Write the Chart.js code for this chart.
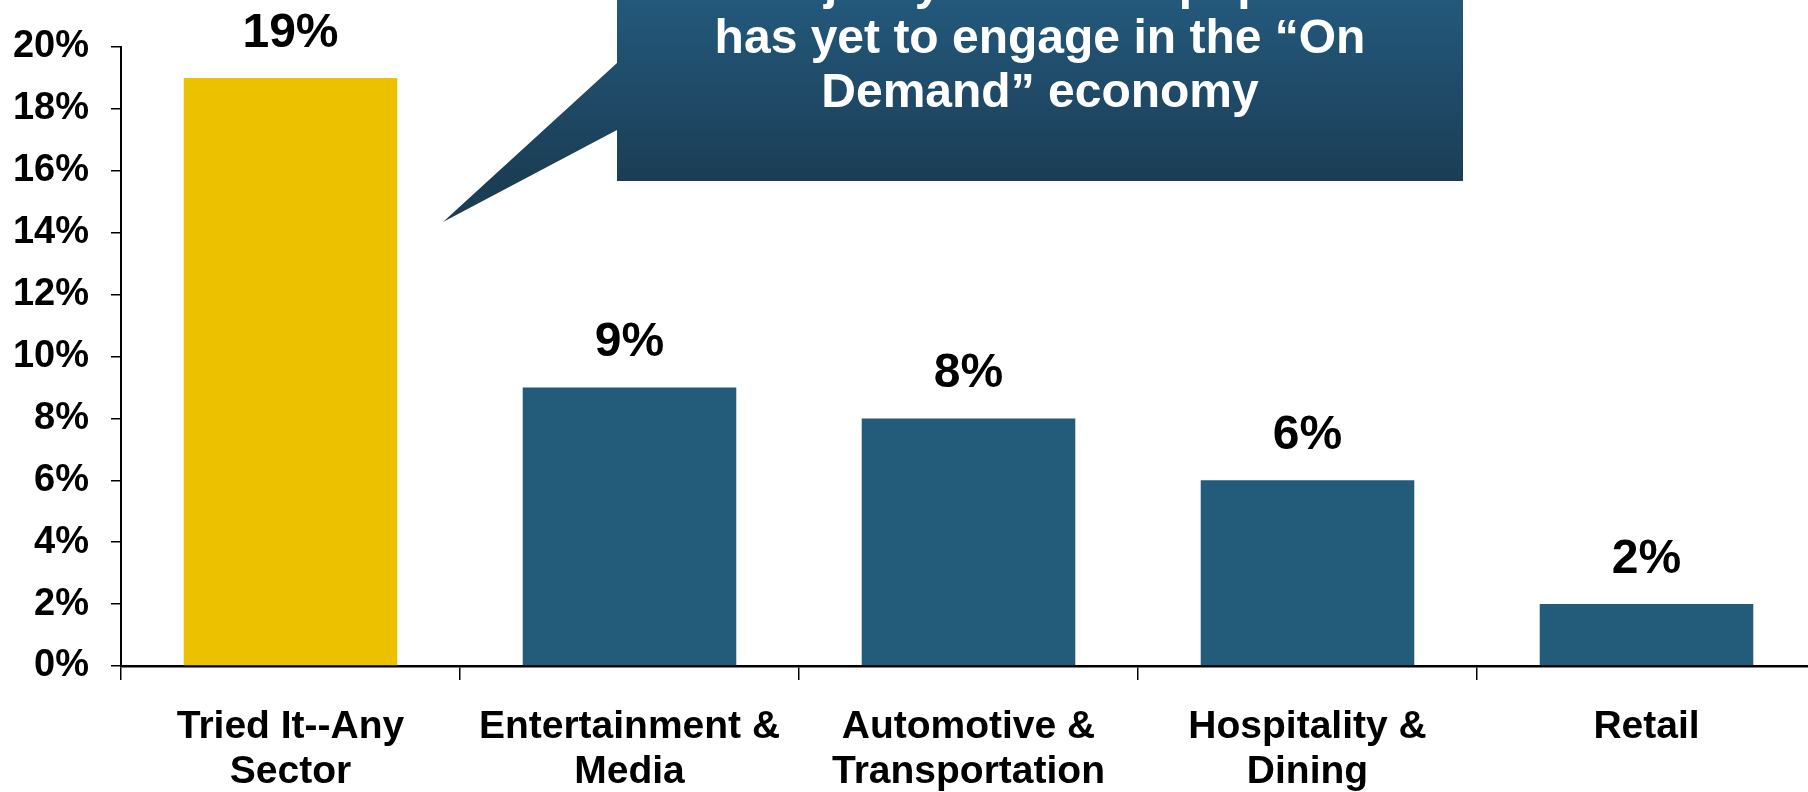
<!DOCTYPE html>
<html>
<head>
<meta charset="utf-8">
<script src="https://cdn.jsdelivr.net/npm/chart.js@4.4.0/dist/chart.umd.min.js"></script>
<style>
  html, body { margin: 0; padding: 0; background: #fff; overflow: hidden; }
  #wrap { width: 1820px; height: 792px; position: relative; }
</style>
</head>
<body>
<div id="wrap"><canvas id="chart"></canvas></div>
<script>
// data
const categories = [
    ['Tried It--Any', 'Sector'],
    ['Entertainment &', 'Media'],
    ['Automotive &', 'Transportation'],
    ['Hospitality &', 'Dining'],
    ['Retail']
];
const shares = [19, 9, 8, 6, 2];
const barColors = ['#ecc200', '#235b7a', '#235b7a', '#235b7a', '#235b7a'];
const yTicks = [0, 2, 4, 6, 8, 10, 12, 14, 16, 18, 20];
const calloutLines = ['The majority of the US population', 'has yet to engage in the \u201cOn', 'Demand\u201d economy'];

const FONT = '"Liberation Sans", Arial, sans-serif';

// value labels above bars
const valueLabels = {
    id: 'valueLabels',
    afterDatasetsDraw(chart) {
        const ctx = chart.ctx;
        const meta = chart.getDatasetMeta(0);
        ctx.save();
        ctx.font = 'bold 48px ' + FONT;
        ctx.fillStyle = '#000';
        ctx.textAlign = 'center';
        ctx.textBaseline = 'alphabetic';
        meta.data.forEach((bar, i) => {
            ctx.fillText(shares[i] + '%', bar.x, bar.y - 31);
        });
        ctx.restore();
    }
};

// speech bubble callout
const callout = {
    id: 'callout',
    afterDraw(chart) {
        const ctx = chart.ctx;
        const left = 617, right = 1463, top = -70, bottom = 181;
        const grad = ctx.createLinearGradient(0, top, 0, bottom);
        grad.addColorStop(0, '#26638a');
        grad.addColorStop(1, '#1b3d55');
        ctx.save();
        ctx.fillStyle = grad;
        ctx.beginPath();
        ctx.moveTo(left, top);
        ctx.lineTo(right, top);
        ctx.lineTo(right, bottom);
        ctx.lineTo(left, bottom);
        ctx.lineTo(left, 130);
        ctx.lineTo(443, 222);
        ctx.lineTo(left, 63);
        ctx.closePath();
        ctx.fill();

        ctx.font = 'bold 48px ' + FONT;
        ctx.fillStyle = '#fff';
        ctx.textAlign = 'center';
        ctx.textBaseline = 'middle';
        const cx = (left + right) / 2;
        calloutLines.forEach((line, i) => {
            ctx.fillText(line, cx, -14 + i * 54);
        });
        ctx.restore();
    }
};

new Chart(document.getElementById('chart'), {
    type: 'bar',
    data: {
        labels: categories,
        datasets: [{
            data: shares,
            backgroundColor: barColors,
            borderWidth: 0,
            barPercentage: 0.63,
            categoryPercentage: 1
        }]
    },
    options: {
        responsive: true,
        maintainAspectRatio: false,
        animation: false,
        layout: { padding: { top: 47, right: 4, bottom: 0, left: 0 } },
        plugins: {
            legend: { display: false },
            tooltip: { enabled: false }
        },
        scales: {
            x: {
                grid: {
                    display: true,
                    drawOnChartArea: false,
                    drawTicks: true,
                    tickLength: 14,
                    color: '#000',
                    lineWidth: 1.5
                },
                border: { display: true, color: '#000', width: 2.5 },
                ticks: {
                    color: '#000',
                    padding: 25,
                    maxRotation: 0,
                    autoSkip: false,
                    font: { family: FONT, size: 39, weight: 'bold', lineHeight: 1.15 }
                },
                afterFit(scale) { scale.height = 126; }
            },
            y: {
                min: 0,
                max: 20,
                afterBuildTicks(scale) {
                    scale.ticks = yTicks.map(v => ({ value: v }));
                },
                grid: {
                    display: true,
                    drawOnChartArea: false,
                    drawTicks: true,
                    tickLength: 10,
                    color: '#000',
                    lineWidth: 1.5
                },
                border: { display: true, color: '#000', width: 2 },
                ticks: {
                    color: '#000',
                    padding: 22,
                    callback: v => v + '%',
                    font: { family: FONT, size: 38, weight: 'bold' }
                },
                afterFit(scale) { scale.width = 121; }
            }
        }
    },
    plugins: [valueLabels, callout]
});
</script>
</body>
</html>
